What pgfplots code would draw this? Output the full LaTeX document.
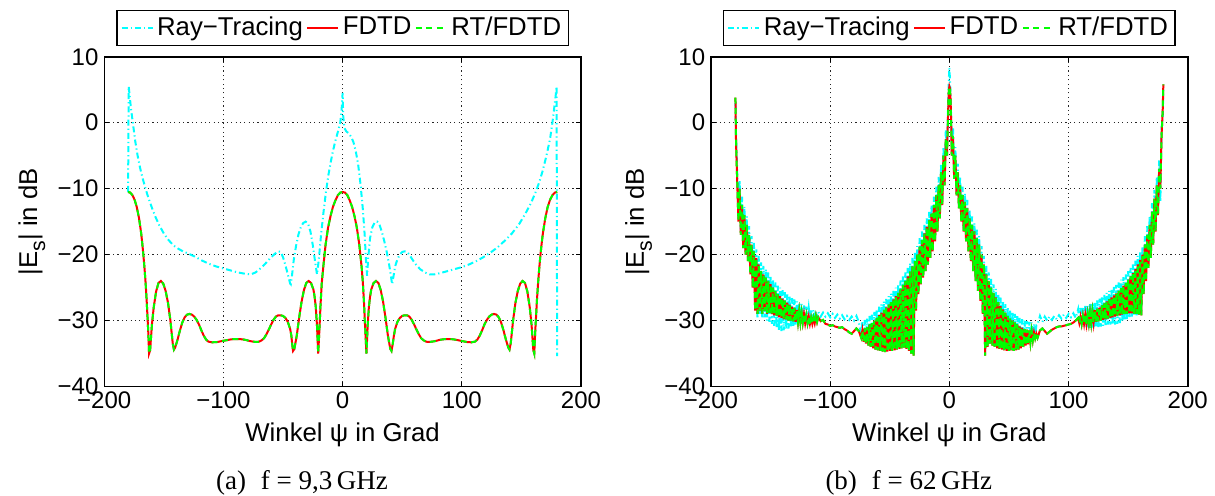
\documentclass[border=0pt]{standalone}
\usepackage{pgfplots}
\pgfplotsset{compat=1.18}
\usepackage{pgfplotstable}
\usepackage{fontspec}
\setmainfont{Liberation Sans}
\newfontfamily\capfont{Liberation Serif}

\definecolor{mcyan}{rgb}{0,1,1}
\definecolor{mred}{rgb}{1,0,0}
\definecolor{mgreen}{rgb}{0,1,0}

% panel (a): FDTD and RT/FDTD
\pgfplotstableread[row sep=\\]{
x y\\
-180 -10.5\\ -178.2 -10.6\\ -176.3 -11.0\\ -174.5 -11.7\\ -172.7 -12.8\\ -170.8 -14.5\\ -169.0 -16.8\\ -168.1 -18.3\\ -167.2 -20.0\\ -166.25 -22.0\\ -165.3 -24.3\\ -164.4 -27.0\\ -163.0 -32.0\\ -162.4 -35.0\\
-161.5 -34.5\\ -160 -30.6\\ -158.5 -28.0\\ -156.5 -25.6\\ -154.5 -24.3\\ -152.5 -24.0\\ -150.5 -24.4\\ -148.5 -25.5\\ -146.5 -27.3\\ -144.5 -30.0\\ -143.5 -31.8\\ -142.5 -33.5\\ -141.5 -34.4\\ -140.5 -34.1\\ -138.5 -32.9\\ -136.5 -31.5\\ -134.5 -30.3\\ -132.5 -29.5\\ -130.5 -29.1\\ -128.5 -29.0\\ -126.5 -29.1\\ -124.5 -29.4\\ -122.5 -29.9\\ -120.5 -30.6\\ -118.5 -31.5\\ -116.5 -32.3\\ -114.5 -32.9\\ -112.5 -33.2\\ -109.5 -33.3\\ -105 -33.25\\ -101 -33.1\\ -96.5 -32.95\\ -93.5 -32.85\\ -90.5 -32.8\\ -87.5 -32.8\\ -84 -32.85\\ -81 -32.95\\ -78 -33.1\\ -75 -33.2\\
-72 -33.25\\ -70 -33.2\\ -68 -33.0\\ -66 -32.7\\ -64 -32.1\\ -62 -31.4\\ -60 -30.6\\ -58 -29.9\\ -56 -29.4\\ -54 -29.2\\ -52 -29.2\\ -50 -29.3\\ -48 -29.6\\ -46 -30.2\\ -44 -31.3\\ -43 -32.3\\ -42.3 -33.6\\ -41.6 -34.6\\ -40.5 -34.3\\ -38.5 -32.3\\ -36.5 -29.6\\ -34.5 -27.2\\ -32.5 -25.4\\ -30.5 -24.3\\ -28.5 -24.0\\ -26.5 -24.3\\ -24.5 -25.3\\ -23.5 -26.4\\ -22.5 -28.0\\ -21.5 -30.8\\ -20.5 -35.0\\ -19.5 -31.5\\ -18.5 -27.5\\ -17.5 -24.3\\ -16.3 -22.0\\ -14.3 -18.5\\ -12.3 -16.0\\ -10.2 -14.2\\ -8.2 -12.8\\ -6.1 -11.8\\ -4 -11.0\\ -2 -10.6\\
0 -10.5\\ 2 -10.6\\ 4 -11.0\\ 6 -11.8\\ 8 -12.8\\ 10 -14.2\\ 12 -16.0\\ 14 -18.5\\ 16 -22.0\\ 17 -24.3\\ 18 -27.5\\ 19 -31.5\\ 20 -35.0\\ 21 -30.8\\ 22 -28.0\\ 23 -26.4\\ 24 -25.3\\ 26 -24.3\\ 28 -24.0\\ 30 -24.3\\ 32 -25.4\\ 34 -27.2\\ 36 -29.6\\ 38 -32.3\\ 40 -34.3\\ 41 -34.6\\ 42 -33.6\\ 43 -32.3\\ 44 -31.3\\ 46 -30.2\\ 48 -29.6\\ 50 -29.3\\ 52 -29.2\\ 54 -29.2\\ 56 -29.4\\ 58 -29.9\\ 60 -30.6\\ 62 -31.4\\ 64 -32.1\\ 66 -32.7\\ 68 -33.0\\ 70 -33.2\\ 72 -33.25\\ 75 -33.2\\ 78 -33.1\\ 81 -32.95\\ 84 -32.85\\ 87 -32.8\\ 90 -32.8\\ 93 -32.85\\ 96 -32.95\\ 100 -33.1\\ 104 -33.25\\ 108 -33.3\\ 111 -33.2\\ 113 -32.9\\ 115 -32.3\\ 117 -31.5\\ 119 -30.6\\ 121 -29.9\\ 123 -29.4\\ 125 -29.1\\ 127 -29.0\\ 129 -29.1\\ 131 -29.5\\ 133 -30.3\\ 135 -31.5\\ 137 -32.9\\ 139 -34.1\\ 140 -34.4\\ 141 -33.5\\ 142 -31.8\\ 143 -30.0\\ 145 -27.3\\ 147 -25.5\\ 149 -24.4\\ 151 -24.0\\ 153 -24.3\\ 155 -25.6\\ 157 -28.0\\ 158.5 -30.6\\ 160 -34.5\\ 160.8 -35.0\\ 161.5 -32.0\\ 163 -27.0\\ 164 -24.3\\ 165 -22.0\\ 166 -20.0\\ 167 -18.3\\ 168 -16.8\\ 170 -14.5\\ 172 -12.8\\ 174 -11.7\\ 176 -11.0\\ 178 -10.6\\ 180 -10.5\\
}\tabAfd

% panel (a): Ray-Tracing
\pgfplotstableread[row sep=\\]{
x y\\
-180 -10.5\\ -179.5 5.5\\ -178.5 3.8\\ -177.5 2.0\\ -176 0.0\\ -174 -2.8\\ -172 -5.0\\ -170 -6.8\\ -168 -8.3\\ -166 -9.6\\ -164 -10.8\\ -162 -11.9\\ -160 -12.9\\ -157 -14.3\\ -154 -15.5\\ -150 -16.8\\ -146 -17.8\\ -142 -18.6\\ -138 -19.1\\ -134 -19.5\\ -130 -19.8\\ -124 -20.3\\ -118 -20.9\\ -112 -21.4\\ -106 -21.8\\ -100 -22.1\\ -94 -22.4\\ -88 -22.7\\ -82 -22.9\\ -77 -23.0\\ -73 -22.7\\ -69 -22.1\\ -65 -21.4\\ -61 -20.6\\ -57 -19.9\\ -54 -19.5\\ -52 -19.6\\ -50 -20.4\\ -48 -21.6\\ -46 -23.0\\ -44 -24.4\\ -43.5 -24.5\\ -42.5 -23.2\\ -41 -20.8\\ -39 -18.6\\ -37 -16.9\\ -35 -15.8\\ -33 -15.2\\ -31 -15.0\\ -29 -15.3\\ -27 -16.5\\ -25 -18.6\\ -23 -21.2\\ -21.5 -23.0\\ -20 -20.8\\ -18 -16.8\\ -16 -13.5\\ -14 -10.5\\ -12 -8.0\\ -10 -6.0\\ -8 -4.2\\ -6 -2.7\\ -4 -1.4\\ -2 0.0\\ -1 1.6\\ 0 4.5\\
0.5 1.0\\ 1.5 -0.8\\ 3 -1.3\\ 5 -1.6\\ 7 -2.1\\ 9 -2.9\\ 11 -4.3\\ 13 -6.3\\ 15 -9.3\\ 17 -13.2\\ 18.5 -17.0\\ 19.5 -20.5\\ 20.5 -23.2\\ 21.5 -20.5\\ 23 -17.5\\ 25 -15.8\\ 27 -15.1\\ 29 -15.0\\ 31 -15.5\\ 33 -16.6\\ 35 -18.0\\ 37 -19.6\\ 39 -21.5\\ 40.5 -23.2\\ 41.5 -24.5\\ 42.5 -23.5\\ 44 -21.8\\ 46 -20.7\\ 48 -20.0\\ 50 -19.6\\ 52 -19.5\\ 54 -19.6\\ 56 -20.0\\ 58 -20.6\\ 61 -21.4\\ 65 -22.2\\ 69 -22.7\\ 73 -23.0\\ 77 -23.0\\ 82 -22.8\\ 88 -22.5\\ 94 -22.2\\ 100 -21.9\\ 106 -21.5\\ 112 -21.0\\ 118 -20.4\\ 124 -19.7\\ 130 -18.9\\ 136 -17.9\\ 142 -16.8\\ 148 -15.4\\ 153 -13.9\\ 158 -12.2\\ 162 -10.5\\ 165 -9.0\\ 168 -7.2\\ 171 -5.0\\ 174 -2.5\\ 176 0.0\\ 177.5 2.2\\ 178.7 4.0\\ 179.5 5.5\\ 180 -35.4\\
}\tabArt

% panel (b): x, FDTD (r), Ray-Tracing (c)
\pgfplotstableread[row sep=\\]{
x r c\\
-179.5 3.8 3.0\\ -179 -3 -2\\ -178 -9 -7.5\\ -177 -15 -14.5\\ -176 -10 -8.7\\ -175 -17 -16.5\\ -174 -12.5 -11.2\\ -173 -19 -18.5\\ -172 -14 -12.7\\ -171 -20 -19.5\\ -170 -15.5 -14.2\\ -169 -21 -20.5\\ -168 -17 -15.7\\ -167 -23 -22.5\\ -166 -18.5 -17.2\\ -165 -25 -24.5\\ -164 -19.5 -18.2\\ -163 -28.5 -28\\ -162 -20.5 -19.2\\ -161 -29 -29.5\\ -160 -21.5 -20.2\\
-159 -28.5 -29\\ -158 -22.5 -21.2\\ -157 -29 -29.5\\ -156 -23 -21.7\\ -155 -28.5 -29.5\\ -154 -23.5 -22.2\\ -153 -29 -30\\ -152 -24 -22.7\\ -151 -28.8 -30.2\\ -150 -24.5 -23.2\\ -149 -29 -30.5\\ -148 -25 -23.7\\ -147 -29.2 -30.8\\ -146 -25.5 -24.2\\ -145 -29.3 -31.2\\ -144 -26 -24.7\\ -143 -29.5 -31.5\\ -142 -26.3 -25\\ -141 -29.6 -31.6\\ -140 -26.7 -25.4\\
-139 -29.8 -31.5\\ -138 -27 -25.7\\ -137 -29.8 -31.3\\ -136 -27.3 -26\\ -135 -30 -31.2\\ -134 -27.6 -26.3\\ -133 -30 -31\\ -132 -27.9 -26.6\\ -131 -30.1 -30.8\\ -130 -28.1 -26.8\\ -129 -30.2 -30.6\\ -128 -28.4 -27.1\\ -127 -30.2 -30.4\\ -126 -28.6 -27.3\\ -125 -30.3 -30.2\\ -124 -28.8 -27.5\\ -123 -30.3 -30\\ -122 -29 -27.7\\ -121 -30.4 -29.9\\ -120 -29.2 -27.9\\
-119 -30.4 -29.8\\ -118 -29.4 -28.1\\ -117 -30.5 -29.7\\ -116 -29.6 -28.3\\ -115 -30.5 -29.6\\ -114 -29.6 -28.4\\ -113 -30.4 -29.5\\ -112 -29.3 -28.6\\ -111 -30.2 -29.5\\ -110 -29.5 -28.7\\ -108 -30.1 -29.4\\ -106 -29.9 -28.8\\ -104 -30.5 -29.4\\ -102 -30.6 -28.9\\ -100 -30.8 -29.5\\ -98 -30.7 -29\\ -96 -30.9 -29.6\\ -94 -31.0 -29.1\\ -92 -31.1 -29.7\\ -90 -31.0 -29.2\\
-88 -31.3 -29.8\\ -86 -31.5 -29.3\\ -84 -31.8 -29.9\\ -82 -32.0 -29.4\\ -80 -31.6 -30.0\\ -78 -31.2 -29.3\\ -76 -31.6 -30.2\\ -74 -32.6 -32.1\\ -73 -31.5 -30.2\\ -72 -33.2 -32.7\\ -71 -31.2 -29.9\\ -70 -33.5 -33\\ -69 -31.0 -29.7\\ -68 -33.8 -33.3\\ -67 -30.6 -29.3\\ -66 -34.0 -33.5\\ -65 -30.4 -29.1\\ -64 -34.2 -33.7\\ -63 -30.0 -28.7\\ -62 -34.4 -33.9\\ -61 -29.6 -28.3\\ -60 -34.5 -34\\
-59 -29.2 -27.9\\ -58 -34.6 -34.1\\ -57 -28.8 -27.5\\ -56 -34.7 -34.2\\ -55 -28.4 -27.1\\ -54 -34.8 -34.3\\ -53 -28.0 -26.7\\ -52 -34.7 -34.2\\ -51 -27.6 -26.3\\ -50 -34.6 -34.1\\ -49 -27.2 -25.9\\ -48 -34.6 -34.1\\ -47 -26.8 -25.5\\ -46 -34.5 -34\\ -45 -26.3 -25\\ -44 -34.4 -33.9\\ -43 -25.8 -24.5\\ -42 -34.3 -33.8\\ -41 -25.2 -23.9\\ -40 -34.2 -33.7\\
-39 -24.6 -23.3\\ -38 -34.1 -33.6\\ -37 -24 -22.7\\ -36 -34.3 -33.8\\ -35 -23.3 -22\\ -34 -34.6 -34.1\\ -33 -22.6 -21.3\\ -32 -35.0 -34.5\\ -31 -21.8 -20.5\\ -30 -35.3 -34.8\\ -29 -21 -19.7\\ -28 -28.5 -28\\ -27 -20 -18.7\\ -26 -26 -25.5\\ -25 -18.8 -17.5\\ -24 -24.5 -24\\ -23 -17.8 -16.5\\ -22 -23.5 -23\\ -21 -16.8 -15.5\\ -20 -22.5 -22\\
-19 -15.8 -14.5\\ -18 -21.5 -21\\ -17 -14.8 -13.5\\ -16 -20.5 -20\\ -15 -13.8 -12.5\\ -14 -19.5 -19\\ -13 -12.5 -11.2\\ -12 -18 -17.5\\ -11 -11 -9.7\\ -10 -16.5 -16\\ -9 -9.5 -8.2\\ -8 -14.5 -14\\ -7 -7.5 -6.2\\ -6 -12.5 -12\\ -5 -5 -3.7\\ -4 -9.5 -9\\ -3 -2.5 -1\\ -2 -5 -4.5\\ -1 2 3.5\\ -0.5 4.8 6.5\\ 0 5.5 8.3\\
0.5 5.2 6.5\\ 1 3.5 4\\ 1.5 0 1\\ 2 -5 -4.5\\ 3 -2 -0.7\\ 4 -8.5 -8\\ 5 -5 -3.7\\ 6 -11 -10.5\\ 7 -7.5 -6.2\\ 8 -13 -12.5\\ 9 -9.5 -8.2\\ 10 -15 -14.5\\ 11 -11 -9.7\\ 12 -16.5 -16\\ 13 -12 -10.7\\ 14 -18 -17.5\\ 15 -13 -11.7\\ 16 -19.5 -19\\ 17 -14.5 -13.2\\ 18 -21 -20.5\\ 19 -15.5 -14.2\\ 20 -22.5 -22\\
21 -16.5 -15.2\\ 22 -24 -23.5\\ 23 -17.5 -16.2\\ 24 -25.5 -25\\ 25 -18.5 -17.2\\ 26 -27 -26.5\\ 27 -20 -18.7\\ 28 -29 -28.5\\ 29 -21.5 -20.2\\ 30 -35.3 -34.8\\ 31 -23 -21.7\\ 32 -34 -33.5\\ 33 -24 -22.7\\ 34 -33.5 -33\\ 35 -25 -23.7\\ 36 -33.8 -33.3\\ 37 -25.8 -24.5\\ 38 -34 -33.5\\ 39 -26.5 -25.2\\ 40 -34.2 -33.7\\
41 -27.2 -25.9\\ 42 -34.3 -33.8\\ 43 -27.8 -26.5\\ 44 -34.4 -33.9\\ 45 -28.3 -27\\ 46 -34.5 -34\\ 47 -28.8 -27.5\\ 48 -34.6 -34.1\\ 49 -29.3 -28\\ 50 -34.6 -34.1\\ 51 -29.7 -28.4\\ 52 -34.5 -34\\ 53 -30 -28.7\\ 54 -34.6 -34.1\\ 55 -30.3 -29\\ 56 -34.5 -34\\ 57 -30.6 -29.3\\ 58 -34.4 -33.9\\ 59 -30.9 -29.6\\ 60 -34.2 -33.7\\
61 -31.1 -29.8\\ 62 -34 -33.5\\ 63 -31.3 -30\\ 64 -33.8 -33.3\\ 65 -31.4 -30.1\\ 66 -33.6 -33.1\\ 67 -31.5 -30.2\\ 68 -33.3 -32.8\\ 69 -31.6 -30.3\\ 70 -33.0 -32.5\\ 71 -31.8 -30.5\\ 72 -32.7 -32.2\\ 73 -32 -30.7\\ 74 -32.6 -30.6\\ 76 -31.5 -29.3\\ 78 -31.2 -30.2\\ 80 -31.6 -29.4\\ 82 -32.0 -30.0\\ 84 -31.7 -29.4\\ 86 -31.4 -29.9\\
88 -31.2 -29.3\\ 90 -31.0 -29.8\\ 92 -30.9 -29.2\\ 94 -30.9 -29.7\\ 96 -30.8 -29.1\\ 98 -30.7 -29.6\\ 100 -30.6 -29\\ 102 -30.5 -29.5\\ 104 -30.3 -28.9\\ 106 -30.0 -29.6\\ 108 -29.6 -28.3\\ 109 -30.4 -30.1\\ 110 -29.4 -28.1\\ 111 -30.5 -30.5\\ 112 -29.3 -28\\ 113 -30.5 -30.8\\ 114 -29.1 -27.8\\ 115 -30.5 -31\\ 116 -29.0 -27.7\\ 117 -30.4 -31.1\\
118 -28.8 -27.5\\ 119 -30.4 -31.2\\ 120 -28.6 -27.3\\ 121 -30.3 -31.2\\ 122 -28.4 -27.1\\ 123 -30.2 -31.1\\ 124 -28.2 -26.9\\ 125 -30.1 -31\\ 126 -28.0 -26.7\\ 127 -30 -30.9\\ 128 -27.7 -26.4\\ 129 -29.9 -30.8\\ 130 -27.4 -26.1\\ 131 -29.8 -30.7\\ 132 -27.1 -25.8\\ 133 -29.7 -30.6\\ 134 -26.8 -25.5\\ 135 -29.6 -30.6\\ 136 -26.5 -25.2\\ 137 -29.5 -30.6\\
138 -26.2 -24.9\\ 139 -29.4 -30.6\\ 140 -25.9 -24.6\\ 141 -29.3 -30.5\\ 142 -25.5 -24.2\\ 143 -29.2 -30.4\\ 144 -25.1 -23.8\\ 145 -29.1 -30.2\\ 146 -24.7 -23.4\\ 147 -29 -30\\ 148 -24.3 -23\\ 149 -29 -29.8\\ 150 -23.8 -22.5\\ 151 -28.9 -29.6\\ 152 -23.3 -22\\ 153 -28.9 -29.4\\ 154 -22.8 -21.5\\ 155 -29 -29.3\\ 156 -22.2 -20.9\\ 157 -29 -29.2\\
158 -21.5 -20.2\\ 159 -29.1 -29.1\\ 160 -20.8 -19.5\\ 161 -29.2 -28.8\\ 162 -20 -18.7\\ 163 -26 -25.5\\ 164 -18.5 -17.2\\ 165 -24 -23.5\\ 166 -17 -15.7\\ 167 -22 -21.5\\ 168 -15.5 -14.2\\ 169 -20.5 -20\\ 170 -13.5 -12.2\\ 171 -18.5 -18\\ 172 -11.5 -10.2\\ 173 -16.5 -16\\ 174 -9.5 -8.2\\ 175 -14 -13.5\\ 176 -7 -5.7\\ 177 -10 -12\\ 178 -2 -1\\ 179 2 1\\ 179.5 5.8 5\\
}\tabB

\pgfplotsset{
  myax/.style={
    scale only axis, width=190.7pt, height=131.9pt,
    xmin=-200, xmax=200, ymin=-40, ymax=10,
    xtick={-200,-100,0,100,200}, xticklabels={−200,−100,0,100,200},
    ytick={-40,-30,-20,-10,0,10}, yticklabels={−40,−30,−20,−10,0,10},
    tick align=inside, major tick length=2pt,
    xmajorgrids, ymajorgrids,
    major grid style={black!85, line width=0.35pt, dash pattern=on 0.45pt off 1.3pt},
    axis line style={black, line width=0.6pt},
    tick style={black, line width=0.5pt},
    ticklabel style={font=\fontsize{9.6}{11}\selectfont},
    xticklabel style={yshift=1.6pt},
    yticklabel style={xshift=1.2pt},
    xlabel={Winkel ψ in Grad},
    ylabel={|E\raisebox{-0.6ex}{\fontsize{8.5}{9}\selectfont s}| in dB},
    label style={font=\fontsize{10.3}{12}\selectfont},
    xlabel style={at={(axis description cs:0.5,-0.1674)}, anchor=base},
    ylabel style={at={(axis description cs:-0.141,0.5)}, anchor=base},
    legend columns=3,
    legend style={at={(0.5,1.0333)}, anchor=south, draw=black, line width=0.5pt,
      fill=white, font=\fontsize{10.3}{12}\selectfont,
      inner xsep=1.4pt, inner ysep=0.8pt,
      nodes={inner xsep=1.4pt, inner ysep=1.6pt},
      /tikz/every even column/.append style={column sep=0pt}},
    legend image code/.code={\draw[#1] (0pt,0pt) -- (12.4pt,0pt);},
  },
  rtstyle/.style={mcyan, line width=0.8pt, dash pattern=on 2.4pt off 1.2pt on 0.5pt off 1.2pt},
  fdstyle/.style={mred, line width=0.8pt, solid},
  rfstyle/.style={mgreen, line width=0.8pt, dash pattern=on 2.4pt off 1.8pt},
}

\begin{document}
\begin{tikzpicture}
\path[use as bounding box] (0,0) rectangle (486pt,198pt);

\begin{axis}[myax, at={(41.7pt,43.4pt)}, anchor=south west]
  \addplot[rtstyle] table[x=x,y=y]{\tabArt};
  \addplot[fdstyle] table[x=x,y=y]{\tabAfd};
  \addplot[rfstyle] table[x=x,y=y]{\tabAfd};
  \legend{Ray−Tracing, FDTD, RT/FDTD}
\end{axis}

\begin{axis}[myax, at={(284.4pt,43.4pt)}, anchor=south west]
  \addplot[rtstyle] table[x=x,y=c]{\tabB};
  \addplot[fdstyle] table[x=x,y=r]{\tabB};
  \addplot[rfstyle] table[x=x,y=r]{\tabB};
  \legend{Ray−Tracing, FDTD, RT/FDTD}
\end{axis}

\node[font=\capfont\fontsize{10.8}{12}\selectfont, anchor=base] at (120.8pt,2.4pt) {(a)\hspace{0.55em}f = 9,3\,GHz};
\node[font=\capfont\fontsize{10.8}{12}\selectfont, anchor=base] at (363.5pt,2.4pt) {(b)\hspace{0.55em}f = 62\,GHz};
\end{tikzpicture}
\end{document}
